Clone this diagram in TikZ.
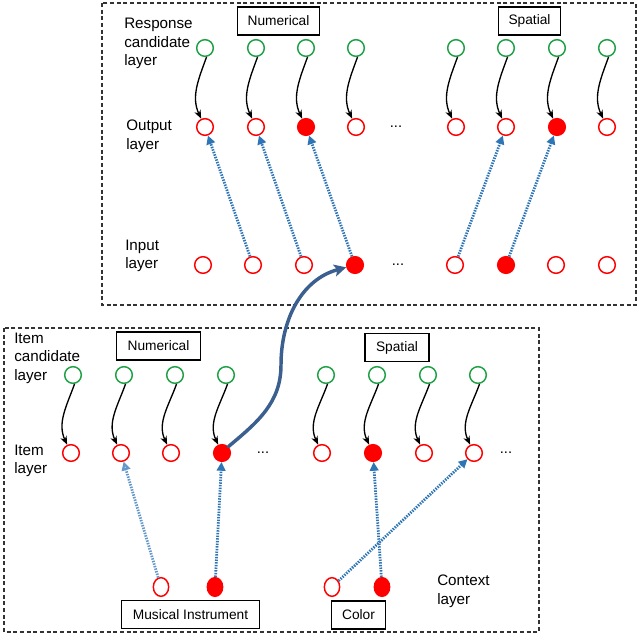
\documentclass[tikz,border=0pt]{standalone}
\usepackage{fontspec}
\setmainfont{Liberation Sans}
\usetikzlibrary{arrows.meta, shapes.geometric}

\definecolor{linkblue}{RGB}{46,117,182}
\definecolor{recallblue}{RGB}{59,95,143}
\definecolor{nodegreen}{RGB}{30,160,70}

\begin{document}
\begin{tikzpicture}[x=0.75pt, y=0.75pt,
    unit/.style={circle, minimum size=12.5pt, inner sep=0pt, line width=1.1pt},
    candunit/.style={unit, draw=nodegreen},
    redopen/.style={unit, draw=red},
    redfull/.style={unit, draw=red, fill=red},
    ctxopen/.style={ellipse, minimum width=11.5pt, minimum height=14pt, inner sep=0pt, line width=1.1pt, draw=red},
    ctxfull/.style={ctxopen, fill=red},
    layerlabel/.style={anchor=west, align=left, inner sep=0pt, font=\fontsize{11.4}{13.9}\selectfont},
    groupbox/.style={draw, line width=0.8pt, inner sep=0pt, font=\fontsize{10.3}{12}\selectfont},
    moredots/.style={inner sep=0pt, font=\fontsize{11}{12}\selectfont},
    candarrow/.style={line width=1pt, -{Stealth[length=6.5pt, width=5pt]}},
    linkarrow/.style={draw=linkblue, line width=2.1pt, dash pattern=on 1.1pt off 0.9pt, -{Triangle[length=6.5pt, width=6.5pt]}},
    recallarrow/.style={draw=recallblue, line width=2.6pt, line cap=round, -{Stealth[length=9pt, width=9pt, inset=2pt]}}
]
    \useasboundingbox (0,0) rectangle (640,-637);

    % Response side
    \draw[line width=1pt, dash pattern=on 3pt off 2pt, black!80] (102,-3) rectangle (636,-305);

    \node[groupbox, minimum width=62pt, minimum height=21pt] (numtop) at (278.5,-21) {Numerical};
    \node[groupbox, minimum width=47pt, minimum height=21pt] (spatop) at (529.5,-21) {Spatial};

    \node[layerlabel] (rclabel) at (124,-43.5) {Response\\candidate\\layer};
    \node[layerlabel] (outlabel) at (126,-136) {Output\\layer};
    \node[layerlabel] (inlabel) at (125,-256) {Input\\layer};

    \foreach \x/\s [count=\i] in {205/redopen, 256/redopen, 306/redfull, 356/redopen, 456/redopen, 506/redopen, 557/redfull, 607/redopen} {
        \node[candunit] (rc\i) at (\x,-48) {};
        \node[\s] (out\i) at (\x,-127) {};
        \draw[candarrow] (rc\i.-80) to[out=-110, in=115] (out\i.115);
    }
    \foreach \x/\s [count=\i] in {203/redopen, 253/redopen, 304/redopen, 355/redfull, 455/redopen, 506/redfull, 556/redopen, 607/redopen}
        \node[\s] (in\i) at (\x,-265) {};

    \node[moredots] (outdots) at (396,-127) {...};
    \node[moredots] (indots) at (398,-265) {...};

    \draw[linkarrow] (in2) -- (out1);
    \draw[linkarrow] (in3) -- (out2);
    \draw[linkarrow] (in4) -- (out3);
    \draw[linkarrow] (in5) -- (out6);
    \draw[linkarrow] (in6) -- (out7);

    % Item side
    \draw[line width=1pt, dash pattern=on 3pt off 2pt, black!80] (4,-328) rectangle (539,-632);

    \node[groupbox, minimum width=63.5pt, minimum height=21pt] (numbot) at (158.5,-346) {Numerical};
    \node[groupbox, minimum width=48pt, minimum height=21.5pt] (spabot) at (397,-347.5) {Spatial};

    \node[layerlabel] (iclabel) at (14,-358) {Item\\candidate\\layer};
    \node[layerlabel] (itlabel) at (14,-461) {Item\\layer};
    \node[layerlabel] (ctxlabel) at (437,-591) {Context\\layer};

    \foreach \cx/\x/\s [count=\i] in {73/71/redopen, 124/121/redopen, 175/171/redopen, 226/222/redfull, 326/322/redopen, 377/373/redfull, 428/424/redopen, 478/474/redopen} {
        \node[candunit] (ic\i) at (\cx,-375) {};
        \node[\s] (it\i) at (\x,-453) {};
        \draw[candarrow] (ic\i.-80) to[out=-110, in=115] (it\i.115);
    }
    \node[moredots] (itdots1) at (263,-453) {...};
    \node[moredots] (itdots2) at (506,-453) {...};

    \foreach \x/\s [count=\i] in {161/ctxopen, 215/ctxfull, 332/ctxopen, 382/ctxfull}
        \node[\s] (ctx\i) at (\x,-587) {};

    \node[groupbox, minimum width=104pt, minimum height=21.5pt] (music) at (190.5,-614.5) {Musical Instrument};
    \node[groupbox, minimum width=41pt, minimum height=21pt] (color) at (358.5,-615) {Color};

    \draw[linkarrow, draw=linkblue!75, -{Triangle[length=6.5pt, width=6.5pt, fill=linkblue!30]}] (ctx1) -- (it2);
    \draw[linkarrow] (ctx2) -- (it4);
    \draw[linkarrow] (ctx3) -- (it8);
    \draw[linkarrow] (ctx4) -- (it6);

    % item to input
    \coordinate (bend) at (281,-365);
    \draw[recallarrow] (it4.north east) to[out=40, in=-90] (bend) to[out=90, in=195] (in4);
\end{tikzpicture}
\end{document}
